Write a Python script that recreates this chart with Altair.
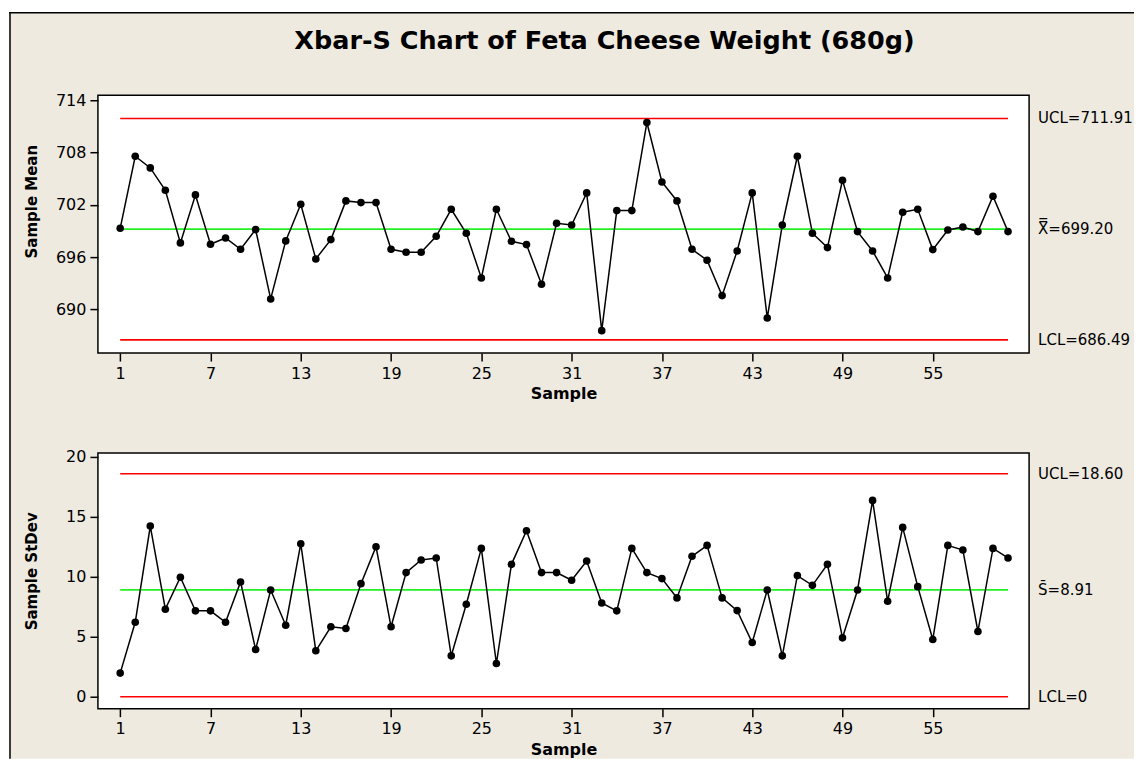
import altair as alt
import pandas as pd

# ---------------- data ----------------
samples = list(range(1, 61))
sample_means = [
    699.30, 707.57, 706.23, 703.67, 697.62, 703.13, 697.46, 698.19, 696.89, 699.15,
    691.19, 697.85, 702.06, 695.78, 698.00, 702.44, 702.25, 702.25, 696.89, 696.55,
    696.55, 698.38, 701.48, 698.73, 693.60, 701.48, 697.81, 697.43, 692.87, 699.88,
    699.68, 703.36, 687.55, 701.33, 701.33, 711.44, 704.62, 702.44, 696.89, 695.63,
    691.57, 696.70, 703.36, 689.00, 699.68, 707.57, 698.73, 697.08, 704.81, 698.92,
    696.70, 693.60, 701.14, 701.48, 696.85, 699.11, 699.45, 698.92, 702.98, 698.92,
]
sample_stdevs = [
    1.97, 6.21, 14.23, 7.30, 9.96, 7.16, 7.16, 6.21, 9.57, 3.94,
    8.90, 5.96, 12.76, 3.83, 5.83, 5.69, 9.43, 12.51, 5.83, 10.35,
    11.40, 11.57, 3.41, 7.71, 12.37, 2.77, 11.04, 13.84, 10.35, 10.35,
    9.71, 11.32, 7.82, 7.16, 12.37, 10.35, 9.85, 8.24, 11.71, 12.62,
    8.24, 7.18, 4.52, 8.90, 3.41, 10.10, 9.29, 11.04, 4.91, 8.90,
    16.37, 7.96, 14.12, 9.18, 4.77, 12.62, 12.23, 5.44, 12.37, 11.57,
]
limit_kinds = ["UCL", "CL", "LCL"]
mean_limits = [711.91, 699.20, 686.49]
stdev_limits = [18.60, 8.91, 0.0]
mean_labels = ["UCL=711.91", "X\u033F=699.20", "LCL=686.49"]
stdev_labels = ["UCL=18.60", "S\u0304=8.91", "LCL=0"]
x_ticks = [1, 7, 13, 19, 25, 31, 37, 43, 49, 55]
mean_ticks = [690, 696, 702, 708, 714]
stdev_ticks = [0, 5, 10, 15, 20]
title_text = "Xbar-S Chart of Feta Cheese Weight (680g)"

# ---------------- styling ----------------
FONT = "DejaVu Sans"
BG = "#EEEAE0"
W = 932
H_TOP = 258
H_BOT = 256
X_DOMAIN = [-0.48, 61.4]
FRAME_RIGHT = 1037
FRAME_BOTTOM = 664


def panel(values, limits, labels, yticks, ydomain, ytitle, height, ytitle_y, top=False):
    df = pd.DataFrame({"Sample": samples, "Value": values})
    lim = pd.DataFrame({"kind": limit_kinds, "value": limits, "label": labels,
                        "start": [samples[0]] * 3, "end": [samples[-1]] * 3})
    one = df.head(1)

    xs = alt.Scale(domain=X_DOMAIN, nice=False, zero=False)
    ys = alt.Scale(domain=ydomain, nice=False, zero=False)
    xaxis = alt.Axis(values=x_ticks, title="Sample", titleY=41, titleBaseline="middle",
                     grid=False, domain=False, tickSize=8, tickWidth=1.5, tickColor="black",
                     labelPadding=4, labelFontSize=16, labelFont=FONT, labelColor="black",
                     titleFont=FONT, titleFontSize=16, titleFontWeight="bold", titleColor="black",
                     zindex=2)
    yaxis = alt.Axis(values=yticks, title=ytitle, titleX=-66, titleY=ytitle_y,
                     titleBaseline="middle", titleAngle=-90,
                     grid=False, domain=False, tickSize=8, tickWidth=1.5, tickColor="black",
                     labelPadding=4, labelFontSize=16, labelFont=FONT, labelColor="black",
                     titleFont=FONT, titleFontSize=15, titleFontWeight="bold", titleColor="black",
                     zindex=2)

    layers = []
    if top:
        frame = alt.Chart(one).mark_rect(fill=BG, stroke=None).encode(
            x=alt.value(-89), x2=alt.value(FRAME_RIGHT), y=alt.value(-83),
            y2=alt.value(FRAME_BOTTOM))
        top_line = alt.Chart(one).mark_rule(color="black", strokeWidth=1.5).encode(
            x=alt.value(-89), x2=alt.value(FRAME_RIGHT), y=alt.value(-82.5))
        left_line = alt.Chart(one).mark_rule(color="black", strokeWidth=1.5).encode(
            x=alt.value(-88), y=alt.value(-83), y2=alt.value(FRAME_BOTTOM))
        layers += [frame, top_line, left_line]

    plot_bg = alt.Chart(one).mark_rect(fill="white", stroke="black", strokeWidth=1.5).encode(
        x=alt.value(0), x2=alt.value(W), y=alt.value(0), y2=alt.value(height))
    rules = alt.Chart(lim).mark_rule(strokeWidth=1.6).encode(
        x=alt.X("start:Q", scale=xs, axis=xaxis),
        x2="end:Q",
        y=alt.Y("value:Q", scale=ys, axis=yaxis),
        color=alt.Color("kind:N", legend=None,
                        scale=alt.Scale(domain=limit_kinds,
                                        range=["#FF0000", "#22F022", "#FF0000"])),
    )
    base = alt.Chart(df).encode(
        x=alt.X("Sample:Q", scale=xs, axis=xaxis),
        y=alt.Y("Value:Q", scale=ys, axis=yaxis),
    )
    line = base.mark_line(color="black", strokeWidth=1.5)
    pts = base.mark_circle(color="black", size=58, opacity=1)
    texts = alt.Chart(lim).mark_text(align="left", baseline="middle", font=FONT,
                                     fontSize=15, color="black").encode(
        x=alt.value(941),
        y=alt.Y("value:Q", scale=ys, axis=yaxis),
        text="label:N",
    )
    layers += [plot_bg, rules, line, pts, texts]
    if top:
        ttl = alt.Chart(one).mark_text(align="center", baseline="middle", font=FONT,
                                       fontSize=25.5, fontWeight="bold", color="black").encode(
            x=alt.value(507), y=alt.value(-54), text=alt.value(title_text))
        layers.append(ttl)
    return alt.layer(*layers).properties(width=W, height=height)


top_chart = panel(sample_means, mean_limits, mean_labels, mean_ticks,
                  [684.98, 714.57], "Sample Mean", H_TOP, 106, top=True)
bottom_chart = panel(sample_stdevs, stdev_limits, stdev_labels, stdev_ticks,
                     [-1.0, 20.33], "Sample StDev", H_BOT, 118)

chart = alt.vconcat(top_chart, bottom_chart, spacing=100, bounds="flush").properties(
    padding={"left": 0, "top": 3, "right": 0, "bottom": 2}
).configure(background="white").configure_view(stroke=None, fill=None)

chart.save("out.html", embed_options={"renderer": "svg", "actions": False})
